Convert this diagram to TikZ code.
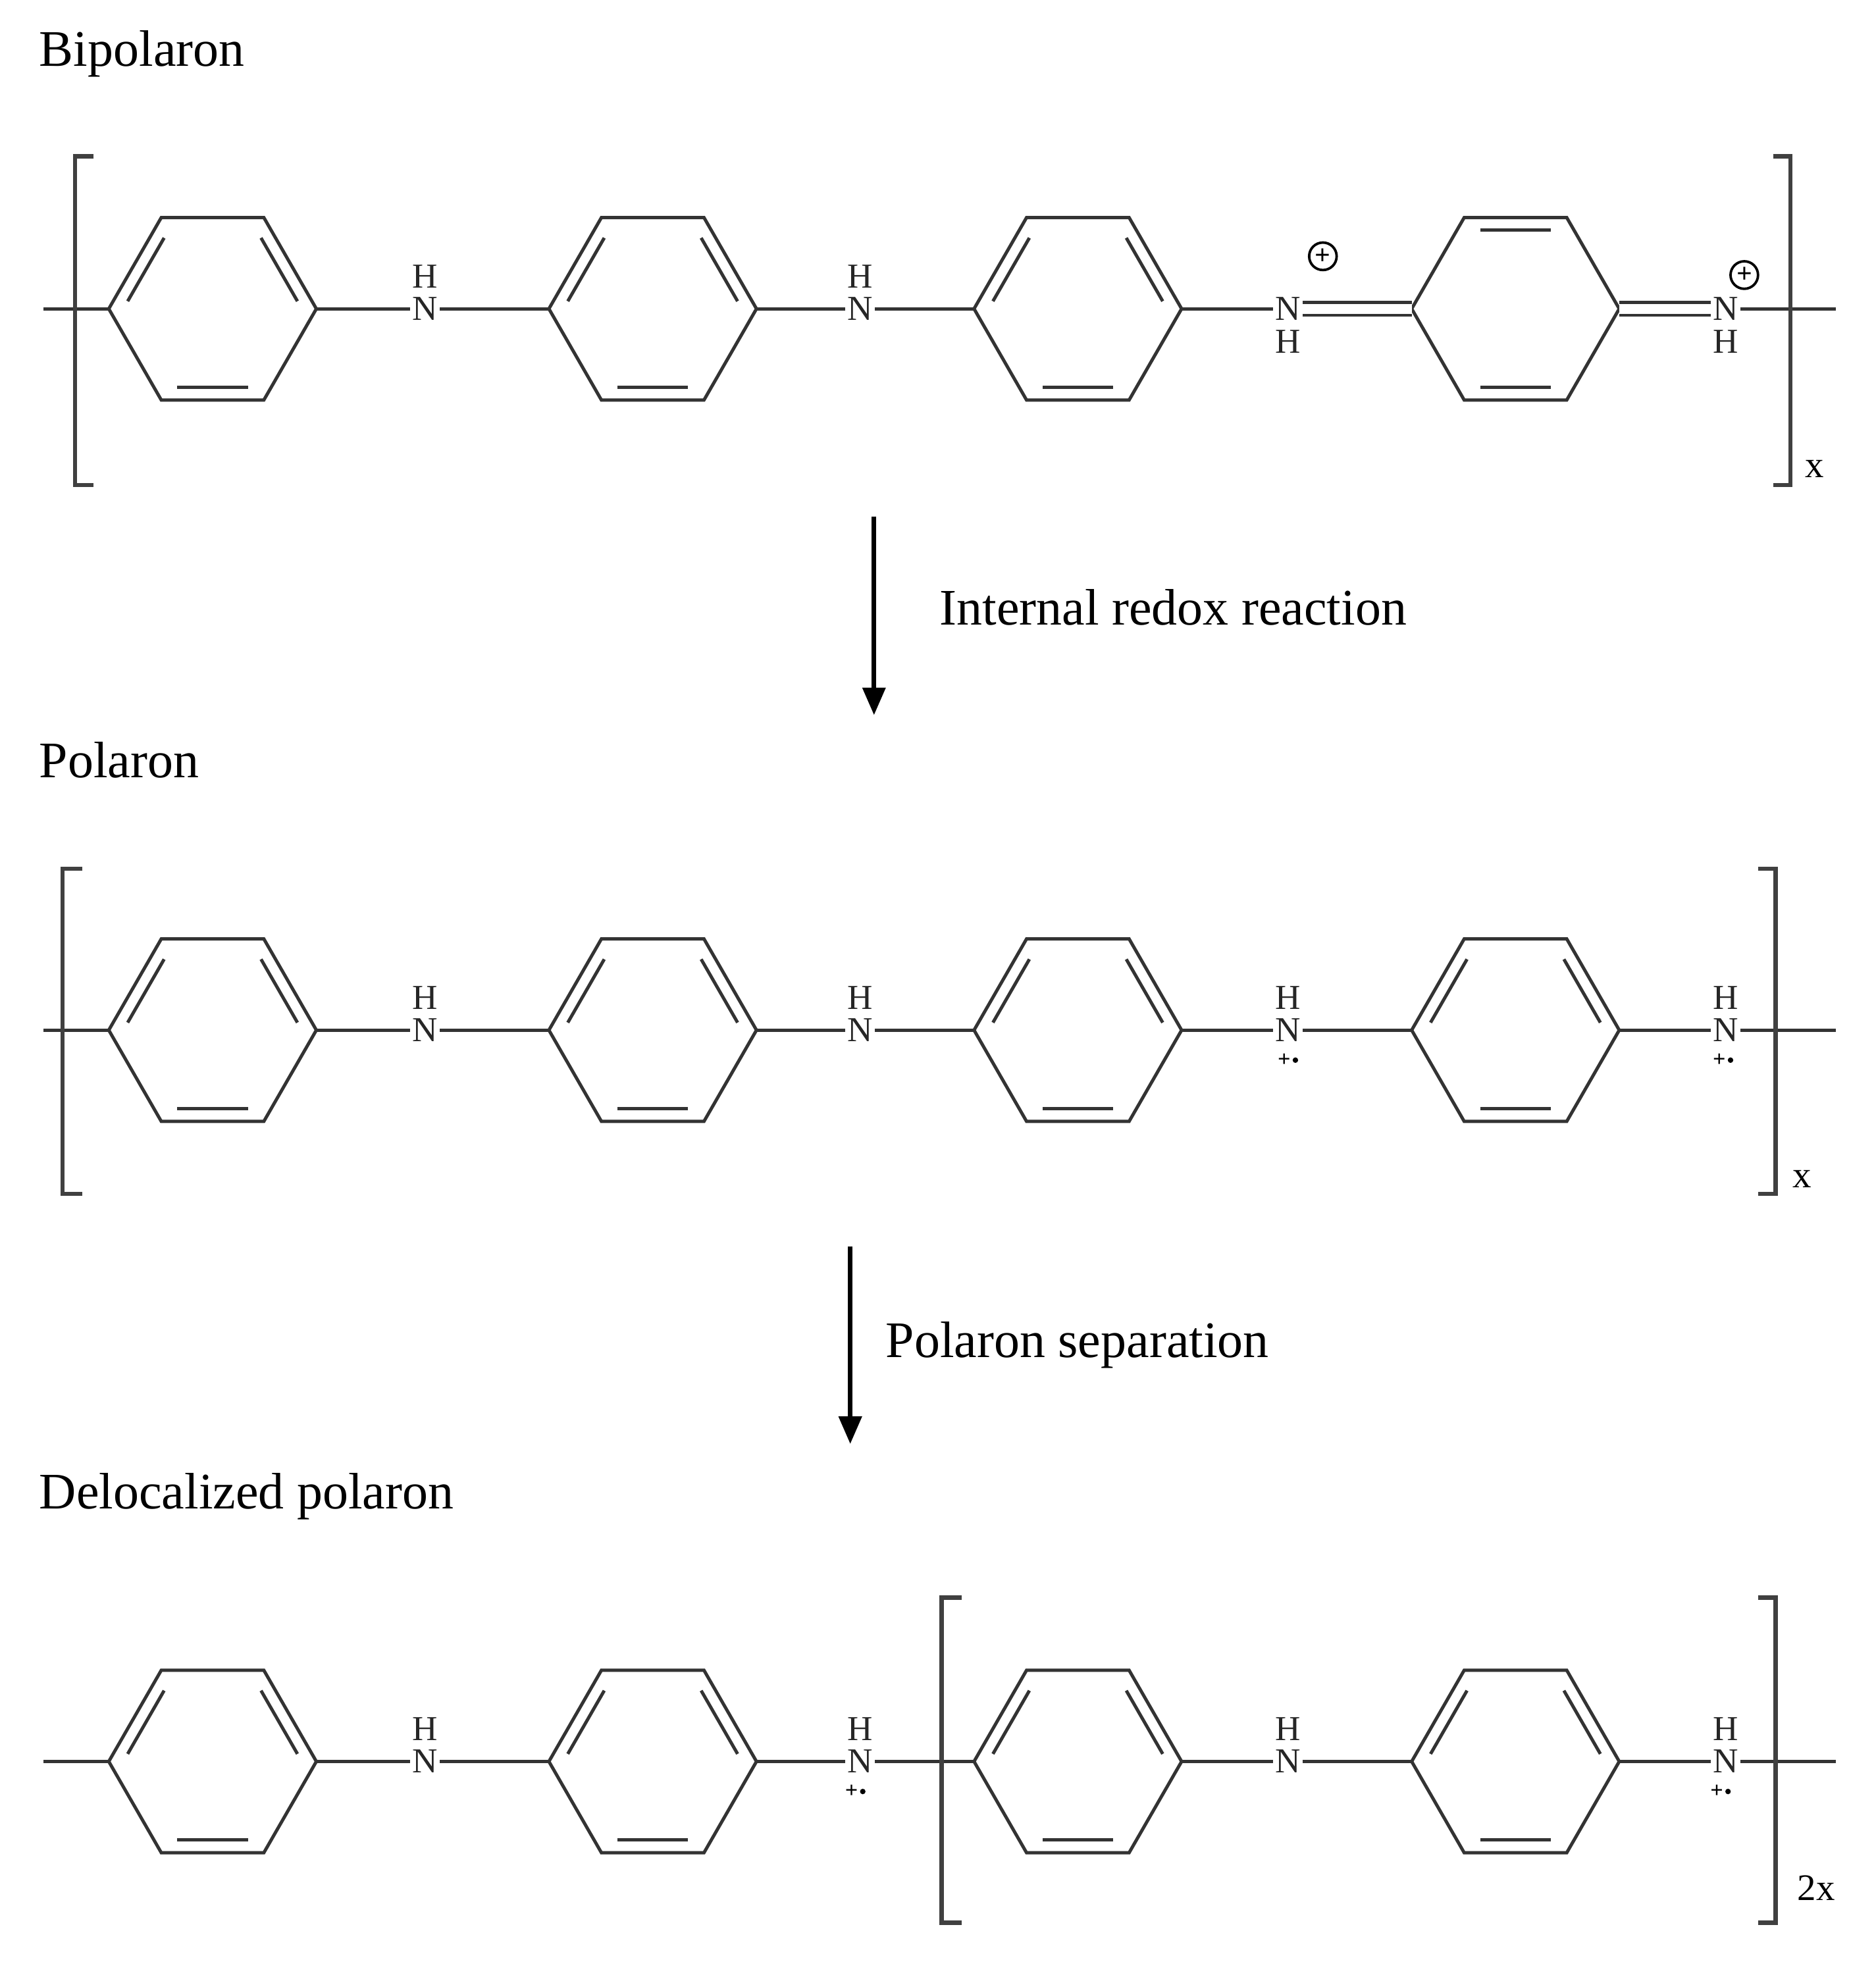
\documentclass[tikz,border=0pt]{standalone}
\usepackage{fontspec}
\setmainfont{Liberation Serif}
\usetikzlibrary{arrows.meta,calc}
\tikzset{
  bond/.style={line width=2.6pt,line join=miter,color=black!80},
  brk/.style={line width=3.4pt,color=black!75},
  atom/.style={font=\fontsize{28}{28}\selectfont,inner sep=1.5pt,text=black!85},
  lbl/.style={font=\fontsize{41}{41}\selectfont,anchor=base west},
  sub/.style={font=\fontsize{30}{30}\selectfont,anchor=base west},
  arr/.style={line width=3.5pt,-{Triangle[length=22pt,width=18pt]}},
  chg/.style={circle,draw,line width=2pt,inner sep=0pt,minimum size=22pt,font=\fontsize{22}{22}\selectfont\bfseries},
  rad/.style={font=\fontsize{18}{18}\selectfont\bfseries,inner sep=0pt}
}
\newcommand\hexring[3]{%
  \coordinate (#1l) at (#2-83,#3);
  \coordinate (#1r) at (#2+83,#3);
  \coordinate (#1a) at (#2-41,#3-73);
  \coordinate (#1b) at (#2+41,#3-73);
  \coordinate (#1d) at (#2+41,#3+73);
  \coordinate (#1e) at (#2-41,#3+73);
  \coordinate (#1c) at (#2,#3);
  \draw[bond] (#1l)--(#1a)--(#1b)--(#1r)--(#1d)--(#1e)--cycle;}
\newcommand\inner[3]{\draw[bond,shorten <=7pt,shorten >=7pt] ($(#1c)!0.86!(#1#2)$)--($(#1c)!0.86!(#1#3)$);}
\newcommand\benz[3]{\hexring{#1}{#2}{#3}\inner{#1}{l}{a}\inner{#1}{b}{r}\inner{#1}{d}{e}}
\newcommand\quin[3]{\hexring{#1}{#2}{#3}\inner{#1}{a}{b}\inner{#1}{d}{e}}
\newcommand\radcat[3]{\node[rad] (#1) at (#2-3,#3) {+}; \fill (#2+6,#3) circle (2.2pt);}
\begin{document}
\begin{tikzpicture}[x=1pt,y=-1pt]
\useasboundingbox (0,0) rectangle (1500,1583);
% ---------- Row 1: Bipolaron
\node[lbl] (t1) at (28,53) {Bipolaron};
\benz{a1}{170}{247}\benz{a2}{522}{247}\benz{a3}{862}{247}\quin{a4}{1212}{247}
\node[atom] (na1) at (340,247) {N}; \node[atom] (ha1) at (340,221) {H};
\node[atom] (na2) at (688,247) {N}; \node[atom] (ha2) at (688,221) {H};
\node[atom] (na3) at (1030,247) {N}; \node[atom] (ha3) at (1030,273) {H};
\node[atom] (na4) at (1380,247) {N}; \node[atom] (ha4) at (1380,273) {H};
\node[chg] (c1) at (1058,205) {+};
\node[chg] (c2) at (1395,220) {+};
\coordinate (e1l) at (35,247); \coordinate (e1r) at (1468,247);
\draw[bond] (e1l)--(a1l) (a1r)--(na1)--(a2l) (a2r)--(na2)--(a3l) (a3r)--(na3) (na4)--(e1r);
\draw[bond,double distance=8pt,line width=2.4pt] (na3)--(a4l) (a4r)--(na4);
\draw[brk] (75,125)--(60,125)--(60,388)--(75,388);
\draw[brk] (1418,125)--(1432,125)--(1432,388)--(1418,388);
\node[sub] (x1) at (1440,382) {x};
% arrow 1
\coordinate (p1) at (699,413); \coordinate (p2) at (699,572);
\draw[arr] (p1)--(p2);
\node[lbl] (t2) at (748,500) {Internal redox reaction};
% ---------- Row 2: Polaron
\node[lbl] (t3) at (28,622) {Polaron};
\benz{b1}{170}{824}\benz{b2}{522}{824}\benz{b3}{862}{824}\benz{b4}{1212}{824}
\node[atom] (nb1) at (340,824) {N}; \node[atom] (hb1) at (340,798) {H};
\node[atom] (nb2) at (688,824) {N}; \node[atom] (hb2) at (688,798) {H};
\node[atom] (nb3) at (1030,824) {N}; \node[atom] (hb3) at (1030,798) {H};
\node[atom] (nb4) at (1380,824) {N}; \node[atom] (hb4) at (1380,798) {H};
\radcat{rb3}{1030}{848}\radcat{rb4}{1378}{848}
\coordinate (e2l) at (35,824); \coordinate (e2r) at (1468,824);
\draw[bond] (e2l)--(b1l) (b1r)--(nb1)--(b2l) (b2r)--(nb2)--(b3l) (b3r)--(nb3)--(b4l) (b4r)--(nb4)--(e2r);
\draw[brk] (66,695)--(50,695)--(50,955)--(66,955);
\draw[brk] (1406,695)--(1420,695)--(1420,955)--(1406,955);
\node[sub] (x2) at (1430,950) {x};
% arrow 2
\coordinate (p3) at (680,997); \coordinate (p4) at (680,1155);
\draw[arr] (p3)--(p4);
\node[lbl] (t4) at (705,1086) {Polaron separation};
% ---------- Row 3: Delocalized polaron
\node[lbl] (t5) at (28,1207) {Delocalized polaron};
\benz{c1}{170}{1409}\benz{c2}{522}{1409}\benz{c3}{862}{1409}\benz{c4}{1212}{1409}
\node[atom] (nc1) at (340,1409) {N}; \node[atom] (hc1) at (340,1383) {H};
\node[atom] (nc2) at (688,1409) {N}; \node[atom] (hc2) at (688,1383) {H};
\node[atom] (nc3) at (1030,1409) {N}; \node[atom] (hc3) at (1030,1383) {H};
\node[atom] (nc4) at (1380,1409) {N}; \node[atom] (hc4) at (1380,1383) {H};
\radcat{rc2}{684}{1433}\radcat{rc4}{1376}{1433}
\coordinate (e3l) at (35,1409); \coordinate (e3r) at (1468,1409);
\draw[bond] (e3l)--(c1l) (c1r)--(nc1)--(c2l) (c2r)--(nc2)--(c3l) (c3r)--(nc3)--(c4l) (c4r)--(nc4)--(e3r);
\draw[brk] (769,1278)--(753,1278)--(753,1538)--(769,1538);
\draw[brk] (1406,1278)--(1420,1278)--(1420,1538)--(1406,1538);
\node[sub] (x3) at (1434,1520) {2x};
\end{tikzpicture}
\end{document}
